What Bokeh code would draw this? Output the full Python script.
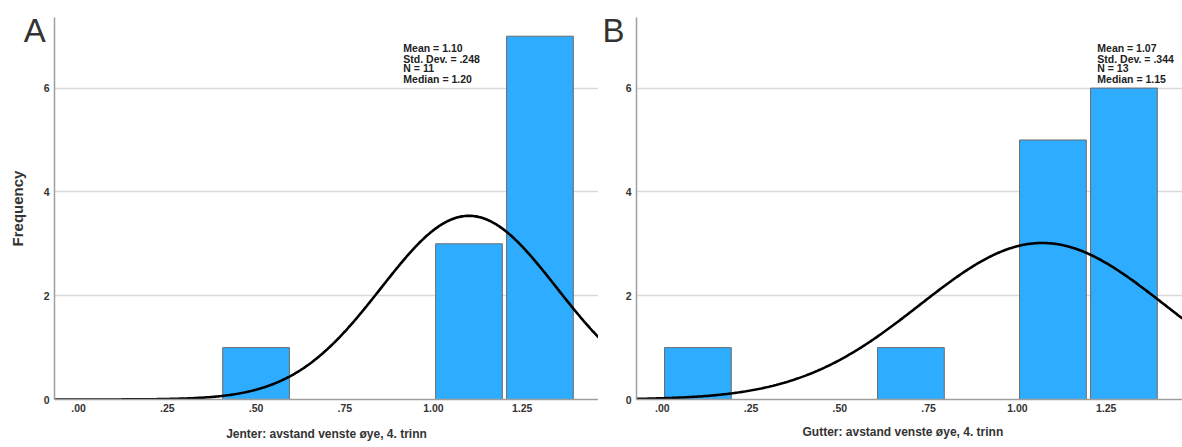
import numpy as np
from bokeh.plotting import figure
from bokeh.models import FixedTicker, Label, Title, Range1d
from bokeh.layouts import row
from bokeh.embed import file_html
from bokeh.resources import INLINE

# ---------------- data ----------------
bin_width = 0.2
a_bin_left = [0.4, 1.0, 1.2]
a_counts = [1, 3, 7]
b_bin_left = [0.0, 0.6, 1.0, 1.2]
b_counts = [1, 1, 5, 6]

a_mean, a_sd, a_n = 1.10, 0.248, 11
b_mean, b_sd, b_n = 1.07, 0.344, 13
a_stats = ["Mean = 1.10", "Std. Dev. = .248", "N = 11", "Median = 1.20"]
b_stats = ["Mean = 1.07", "Std. Dev. = .344", "N = 13", "Median = 1.15"]

x_ticks = [0, 0.25, 0.5, 0.75, 1.0, 1.25]
x_tick_labels = [".00", ".25", ".50", ".75", "1.00", "1.25"]
y_ticks = [0, 2, 4, 6]

a_xlabel = "Jenter: avstand venste øye, 4. trinn"
b_xlabel = "Gutter: avstand venste øye, 4. trinn"
ylabel = "Frequency"
panel_letters = ["A", "B"]

FONT = "Liberation Sans"
BAR = "#2eacff"
TXT = "#333333"
X_END = 1.465
Y_END = 7.36


def make_panel(bin_left, counts, mean, sd, n, stats, letter, x_start, width,
               border_left, stat_x, letter_x, xlabel, with_ylabel):
    p = figure(width=width, height=447, output_backend="svg", toolbar_location=None,
               x_range=Range1d(x_start, X_END), y_range=Range1d(0, Y_END),
               min_border_left=border_left, min_border_right=0,
               min_border_top=17, min_border_bottom=46)
    p.outline_line_color = None
    p.background_fill_color = "white"
    p.border_fill_color = "white"

    centers = [b + bin_width / 2 for b in bin_left]
    p.vbar(x=centers, top=counts, bottom=0, width=bin_width - 0.012,
           fill_color=BAR, line_color="#6b6b6b", line_width=1)

    xs = np.linspace(x_start, X_END, 400)
    ys = n * bin_width / (sd * np.sqrt(2 * np.pi)) * np.exp(-0.5 * ((xs - mean) / sd) ** 2)
    p.line(xs, ys, line_color="black", line_width=2.6)

    # stats text
    ys_txt = [6.77, 6.57, 6.38, 6.18]
    for t, yy in zip(stats, ys_txt):
        p.add_layout(Label(x=stat_x, y=yy, text=t, text_font=FONT,
                           text_font_size="10.5px", text_font_style="bold",
                           text_color="#222222", text_baseline="middle",
                           text_align="left"))

    # axes
    for ax in (p.xaxis[0], p.yaxis[0]):
        ax.axis_line_color = "#9e9e9e"
        ax.axis_line_width = 1.5
        ax.major_tick_line_color = None
        ax.minor_tick_line_color = None
        ax.major_tick_out = 0
        ax.major_tick_in = 0
        ax.major_label_text_font = FONT
        ax.major_label_text_font_style = "bold"
        ax.major_label_text_font_size = "10.5px"
        ax.major_label_text_color = TXT
    p.xaxis.ticker = FixedTicker(ticks=x_ticks)
    p.xaxis.major_label_overrides = {t: l for t, l in zip(x_ticks, x_tick_labels)}
    p.xaxis.major_label_standoff = 4
    p.yaxis.ticker = FixedTicker(ticks=y_ticks)
    p.yaxis.major_label_standoff = 5

    p.xgrid.grid_line_color = None
    p.ygrid.ticker = FixedTicker(ticks=y_ticks)
    p.ygrid.grid_line_color = "#d9d9d9"
    p.ygrid.grid_line_width = 1.5

    # panel letter (in the side panel, so it is not clipped to the frame)
    p.add_layout(Label(x=letter_x, y=7.11, text=letter, text_font=FONT,
                       text_font_size="33px", text_color=TXT,
                       text_baseline="middle", text_align="left"), "left")

    if with_ylabel:
        p.add_layout(Label(x=-0.172, y=3.68, text=ylabel, angle=np.pi / 2,
                           text_font=FONT, text_font_size="15px",
                           text_font_style="bold", text_color=TXT,
                           text_baseline="middle", text_align="center"), "left")
        p.xaxis.axis_label = xlabel
        p.xaxis.axis_label_text_font = FONT
        p.xaxis.axis_label_text_font_style = "bold"
        p.xaxis.axis_label_text_font_size = "12px"
        p.xaxis.axis_label_text_color = TXT
        p.xaxis.axis_label_standoff = 12
    else:
        t = Title(text=xlabel, align="left", offset=166, text_font=FONT,
                  text_font_style="bold", text_font_size="12px",
                  text_color=TXT, standoff=17)
        p.add_layout(t, "below")
    return p


pa = make_panel(a_bin_left, a_counts, a_mean, a_sd, a_n, a_stats, panel_letters[0],
                -0.068, 598, 54, 0.915, -0.155, a_xlabel, True)
pb = make_panel(b_bin_left, b_counts, b_mean, b_sd, b_n, b_stats, panel_letters[1],
                -0.073, 584, 38, 1.225, -0.169, b_xlabel, False)

layout = row(pa, pb, spacing=0)
open("out.html", "w").write(file_html(layout, INLINE))
